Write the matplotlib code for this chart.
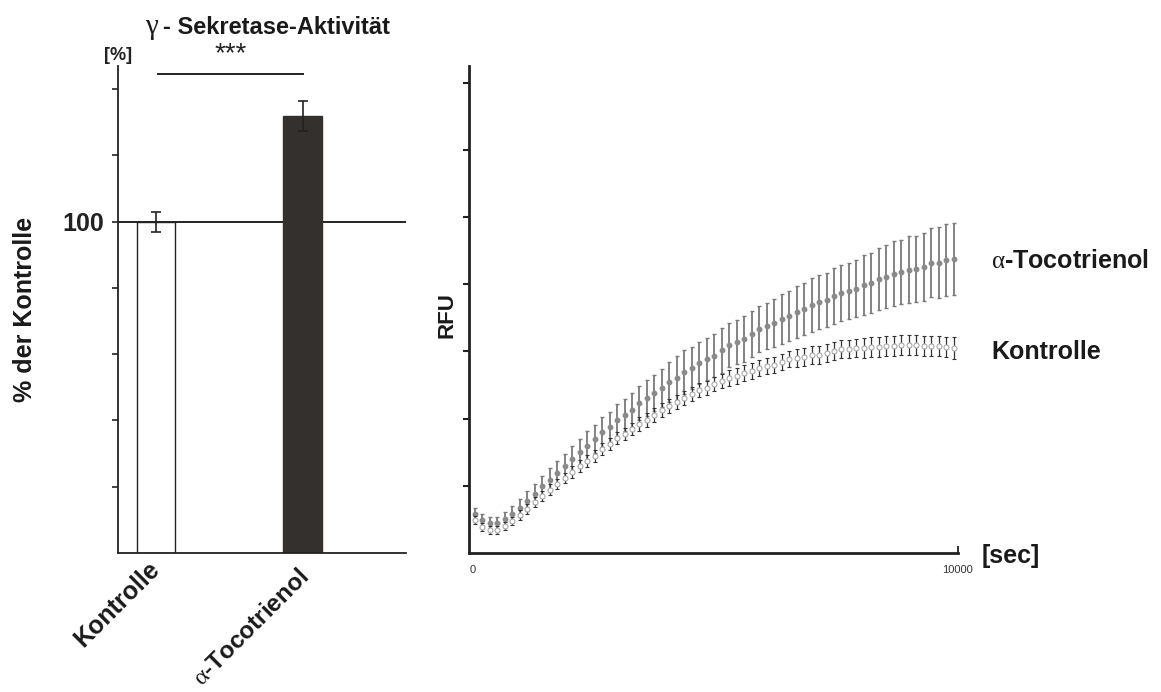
import matplotlib
matplotlib.use("Agg")
import matplotlib.pyplot as plt
import matplotlib.transforms as mtransforms

plt.rcParams['font.family'] = ['Liberation Sans', 'DejaVu Sans']
plt.rcParams['mathtext.fontset'] = 'custom'
plt.rcParams['mathtext.rm'] = 'Liberation Serif'

# --- left panel: gamma-secretase activity (% of control)
groups = ['Kontrolle', r'$\mathrm{\alpha}$-Tocotrienol']
activity = [100, 132]
activity_err = [3, 4.5]

# --- right panel: kinetic (RFU over time)
time_s = [120, 273, 426, 579, 732, 885, 1038, 1191, 1344, 1497, 1650, 1803, 1956,
          2109, 2262, 2415, 2568, 2721, 2874, 3027, 3180, 3333, 3486, 3639, 3792,
          3945, 4098, 4251, 4404, 4557, 4710, 4863, 5016, 5169, 5322, 5475, 5628,
          5781, 5934, 6087, 6240, 6393, 6546, 6699, 6852, 7005, 7158, 7311, 7464,
          7617, 7770, 7923, 8076, 8229, 8382, 8535, 8688, 8841, 8994, 9147, 9300,
          9453, 9606, 9759, 9912]

toco_rfu = [582, 493, 452, 448, 503, 582, 667, 772, 878, 990, 1094, 1194, 1299,
            1399, 1497, 1600, 1701, 1799, 1876, 1975, 2048, 2134, 2234, 2309, 2384,
            2458, 2542, 2607, 2697, 2757, 2831, 2891, 2940, 3015, 3090, 3139, 3190,
            3266, 3328, 3378, 3428, 3488, 3527, 3587, 3637, 3687, 3742, 3766, 3825,
            3872, 3906, 3937, 3990, 4025, 4075, 4115, 4160, 4184, 4219, 4228, 4258,
            4324, 4324, 4363, 4381]
toco_err = [90, 90, 90, 90, 104, 119, 134, 149, 149, 149, 164, 179, 179, 194, 194,
            209, 209, 224, 224, 239, 239, 254, 254, 269, 269, 284, 299, 328, 328, 313,
            313, 313, 313, 328, 328, 328, 343, 343, 343, 343, 358, 373, 373, 388, 388,
            403, 403, 403, 418, 418, 418, 418, 448, 448, 463, 463, 478, 478, 493, 493,
            507, 507, 522, 537, 537]

kontrolle_rfu = [493, 388, 348, 343, 403, 481, 567, 657, 754, 846, 945, 1030, 1115,
                 1209, 1299, 1373, 1448, 1552, 1627, 1706, 1776, 1851, 1918, 1985, 2052,
                 2122, 2190, 2246, 2309, 2373, 2422, 2458, 2518, 2557, 2607, 2642, 2682,
                 2706, 2757, 2791, 2806, 2840, 2881, 2906, 2921, 2955, 2955, 2981, 3004,
                 3030, 3040, 3049, 3055, 3064, 3064, 3079, 3079, 3090, 3090, 3090, 3079,
                 3079, 3079, 3070, 3049]
kontrolle_err = [60, 60, 60, 60, 60, 60, 75, 75, 75, 75, 75, 75, 75, 90, 90, 90, 90,
                 90, 90, 90, 90, 90, 104, 104, 104, 104, 104, 104, 104, 104, 104, 104,
                 104, 104, 119, 119, 119, 119, 119, 119, 119, 119, 119, 134, 134, 134,
                 134, 134, 134, 134, 134, 134, 149, 149, 149, 149, 149, 149, 149, 149,
                 149, 149, 149, 149, 164]

W, H = 1161, 692
fig = plt.figure(figsize=(W / 100, H / 100), dpi=100)


def px_rect(x0, y0, x1, y1):
    # pixel box (top-left origin) -> figure fraction rect
    return [x0 / W, 1 - y1 / H, (x1 - x0) / W, (y1 - y0) / H]


# ---------------- left bar chart ----------------
ax1 = fig.add_axes(px_rect(118, 66, 406, 553))
xpos = [0, 1]
ax1.bar(xpos, activity, width=0.263, color=['white', '#34302d'],
        edgecolor=['#222222', '#34302d'], linewidth=1.0, zorder=2)
ax1.errorbar(xpos, activity, yerr=activity_err, fmt='none', ecolor='#222222',
             elinewidth=1.2, capsize=3.6, capthick=1.2, zorder=3)
ax1.axhline(100, color='#222222', lw=1.4, zorder=1)
ax1.set_xlim(-0.259, 1.706)
ax1.set_ylim(0, 147)
ax1.set_yticks([20, 40, 60, 80, 100, 120, 140])
ax1.set_yticklabels(['', '', '', '', '100', '', ''])
ax1.tick_params(axis='y', direction='out', length=4, width=1.2, pad=6,
                labelsize=18, colors='#222222')
for lab in ax1.get_yticklabels():
    lab.set_fontweight('bold')
ax1.set_xticks([])
for s in ['top', 'right']:
    ax1.spines[s].set_visible(False)
for s in ['left', 'bottom']:
    ax1.spines[s].set_linewidth(1.3)
    ax1.spines[s].set_color('#222222')

# rotated group labels
blend = mtransforms.blended_transform_factory(ax1.transData, ax1.transAxes)
ax1.text(-0.055, -0.008, groups[0], transform=blend, rotation=45,
         rotation_mode='anchor', ha='right', va='top', fontsize=18,
         fontweight='bold', color='#1a1a1a')
ax1.text(0.965, -0.026, groups[1], transform=blend, rotation=45,
         rotation_mode='anchor', ha='right', va='top', fontsize=17.5,
         fontweight='bold', color='#1a1a1a')

# significance bracket
ax1.plot([0.013, 1.0], [1.0 - (74 - 66) / 487] * 2, transform=blend,
         color='#222222', lw=1.4, clip_on=False)
fig.text(231 / W, 1 - 54 / H, '***', ha='center', va='center', fontsize=20,
         color='#222222')
fig.text(118 / W, 1 - 55 / H, '[%]', ha='center', va='center', fontsize=13,
         fontweight='bold', color='#222222')
fig.text(151 / W, 1 - 27 / H, 'γ', ha='center', va='center', fontsize=21,
         family='Liberation Serif', color='#1a1a1a')
fig.text(163 / W, 1 - 27 / H, '- Sekretase-Aktivität', ha='left', va='center',
         fontsize=17, fontweight='bold', color='#1a1a1a')
fig.text(25 / W, 1 - 309 / H, '% der Kontrolle', rotation=90, ha='center',
         va='center', fontsize=18, fontweight='bold', color='#1a1a1a')

# ---------------- right kinetic chart ----------------
ax2 = fig.add_axes(px_rect(469, 66, 958, 553))
ax2.errorbar(time_s, toco_rfu, yerr=toco_err, fmt='o', ms=3.2, mfc='#8a8a8a',
             mec='#8a8a8a', ecolor='#7a7a7a', elinewidth=1.3, capsize=1.6,
             capthick=1.0, zorder=2)
ax2.errorbar(time_s, kontrolle_rfu, yerr=kontrolle_err, fmt='o', ms=3.6,
             mfc='white', mec='#a8a8a8', mew=0.8, ecolor='#333333',
             elinewidth=0.9, capsize=1.6, capthick=1.0, zorder=3)
ax2.set_xlim(0, 10000)
ax2.set_ylim(0, 7250)
ax2.set_yticks([1000, 2000, 3000, 4000, 5000, 6000, 7000])
ax2.set_yticklabels([])
ax2.tick_params(axis='y', direction='out', length=4, width=1.5, colors='#222222')
ax2.set_xticks([10000])
ax2.set_xticklabels([])
ax2.tick_params(axis='x', direction='in', length=5, width=1.3, colors='#222222')
for s in ['top', 'right']:
    ax2.spines[s].set_visible(False)
for s in ['left', 'bottom']:
    ax2.spines[s].set_linewidth(2.0)
    ax2.spines[s].set_color('#222222')

fig.text(473 / W, 1 - 570 / H, '0', ha='center', va='center', fontsize=8,
         color='#333333')
fig.text(957 / W, 1 - 570 / H, '10000', ha='center', va='center', fontsize=8,
         color='#333333', fontstretch='condensed')
fig.text(982 / W, 1 - 556 / H, '[sec]', ha='left', va='center', fontsize=18,
         fontweight='bold', color='#1a1a1a')
fig.text(447 / W, 1 - 315 / H, 'RFU', rotation=90, ha='center', va='center',
         fontsize=16, fontweight='bold', color='#1a1a1a')
fig.text(991 / W, 1 - 261 / H, r'$\mathrm{\alpha}$-Tocotrienol', ha='left',
         va='center', fontsize=18, fontweight='bold', color='#1a1a1a')
fig.text(991 / W, 1 - 352 / H, 'Kontrolle', ha='left', va='center', fontsize=18,
         fontweight='bold', color='#1a1a1a')

fig.savefig('out.png', dpi=100)
